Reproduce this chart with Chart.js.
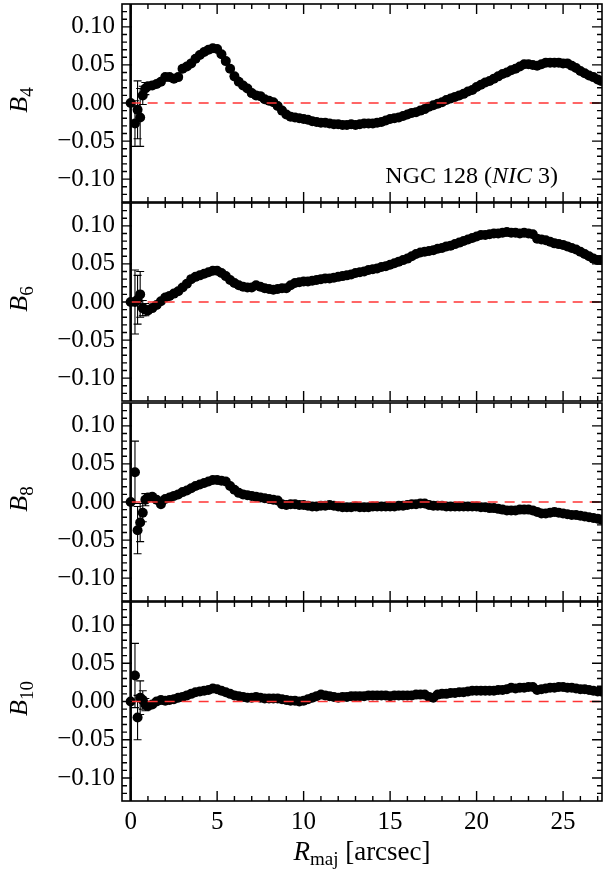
<!DOCTYPE html>
<html>
<head>
<meta charset="utf-8">
<script src="https://cdn.jsdelivr.net/npm/chart.js@4.4.1/dist/chart.umd.min.js"></script>
<style>
  html, body { margin: 0; padding: 0; background: #fff; }
  #wrap { position: relative; width: 607px; height: 871px; overflow: hidden; }
  #wrap canvas { position: absolute; left: 0; }
</style>
</head>
<body>
<div id="wrap">
  <canvas id="b4"></canvas>
  <canvas id="b6"></canvas>
  <canvas id="b8"></canvas>
  <canvas id="b10"></canvas>
</div>
<script>
// major-axis radius [arcsec], same sampling for the four panels
var radii = [
  0, 0.25, 0.4, 0.55, 0.7, 0.85,
  1.0, 1.25, 1.5, 1.75,
  2.0, 2.25, 2.5, 2.75,
  3.0, 3.25, 3.5, 3.75,
  4.0, 4.25, 4.5, 4.75,
  5.0, 5.25, 5.5, 5.75,
  6.0, 6.25, 6.5, 6.75,
  7.0, 7.25, 7.5, 7.75,
  8.0, 8.25, 8.5, 8.75,
  9.0, 9.25, 9.5, 9.75,
  10.0, 10.25, 10.5, 10.75,
  11.0, 11.25, 11.5, 11.75,
  12.0, 12.25, 12.5, 12.75,
  13.0, 13.25, 13.5, 13.75,
  14.0, 14.25, 14.5, 14.75,
  15.0, 15.25, 15.5, 15.75,
  16.0, 16.25, 16.5, 16.75,
  17.0, 17.25, 17.5, 17.75,
  18.0, 18.25, 18.5, 18.75,
  19.0, 19.25, 19.5, 19.75,
  20.0, 20.25, 20.5, 20.75,
  21.0, 21.25, 21.5, 21.75,
  22.0, 22.25, 22.5, 22.75,
  23.0, 23.25, 23.5, 23.75,
  24.0, 24.25, 24.5, 24.75,
  25.0, 25.25, 25.5, 25.75,
  26.0, 26.25, 26.5, 26.75,
  27.0, 27.2
];

var b4 = [
  0, -0.027, -0.009, -0.019, 0.010, 0.019,
  0.022, 0.023, 0.025, 0.028,
  0.034, 0.034, 0.032, 0.034,
  0.045, 0.048, 0.052, 0.058,
  0.063, 0.067, 0.070, 0.072,
  0.071, 0.064, 0.055, 0.045,
  0.035, 0.028, 0.023, 0.019,
  0.013, 0.010, 0.009, 0.005,
  0.003, 0.001, -0.004, -0.010,
  -0.015, -0.018, -0.019, -0.020,
  -0.021, -0.022, -0.024, -0.025,
  -0.026, -0.026, -0.027, -0.028,
  -0.028, -0.029, -0.029, -0.028,
  -0.029, -0.028, -0.027, -0.027,
  -0.027, -0.026, -0.025, -0.023,
  -0.021, -0.020, -0.019, -0.017,
  -0.015, -0.013, -0.012, -0.010,
  -0.008, -0.005, -0.003, -0.001,
  0.001, 0.004, 0.006, 0.008,
  0.010, 0.012, 0.015, 0.017,
  0.021, 0.024, 0.027, 0.029,
  0.032, 0.035, 0.038, 0.040,
  0.043, 0.045, 0.048, 0.051,
  0.051, 0.050, 0.049, 0.051,
  0.053, 0.053, 0.053, 0.053,
  0.052, 0.052, 0.049, 0.046,
  0.042, 0.039, 0.036, 0.034,
  0.031, 0.029
];

var b6 = [
  0, 0.000, 0.003, 0.010, -0.008, -0.010,
  -0.011, -0.008, -0.004, 0.001,
  0.006, 0.008, 0.011, 0.014,
  0.019, 0.024, 0.030, 0.033,
  0.035, 0.037, 0.039, 0.041,
  0.041, 0.038, 0.034, 0.029,
  0.025, 0.022, 0.020, 0.019,
  0.019, 0.022, 0.020, 0.018,
  0.017, 0.016, 0.017, 0.018,
  0.018, 0.022, 0.025, 0.026,
  0.027, 0.027, 0.028, 0.029,
  0.030, 0.031, 0.031, 0.032,
  0.033, 0.034, 0.035, 0.036,
  0.038, 0.039, 0.040, 0.042,
  0.043, 0.044, 0.046, 0.047,
  0.049, 0.051, 0.053, 0.055,
  0.057, 0.060, 0.063, 0.065,
  0.066, 0.067, 0.068, 0.070,
  0.071, 0.073, 0.074, 0.076,
  0.078, 0.080, 0.082, 0.084,
  0.086, 0.088, 0.088, 0.089,
  0.090, 0.090, 0.091, 0.092,
  0.091, 0.091, 0.090, 0.091,
  0.090, 0.089, 0.083, 0.082,
  0.081, 0.079, 0.077, 0.076,
  0.075, 0.073, 0.071, 0.069,
  0.066, 0.063, 0.060, 0.057,
  0.055, 0.055
];

var b8 = [
  0, 0.039, -0.037, -0.027, -0.014, 0.003,
  0.006, 0.007, 0.003, -0.003,
  0.004, 0.006, 0.008, 0.010,
  0.013, 0.015, 0.018, 0.021,
  0.023, 0.025, 0.027, 0.029,
  0.029, 0.028, 0.027, 0.021,
  0.016, 0.012, 0.010, 0.009,
  0.008, 0.007, 0.006, 0.005,
  0.004, 0.003, 0.002, -0.003,
  -0.004, -0.003, -0.003, -0.004,
  -0.004, -0.005, -0.006, -0.006,
  -0.005, -0.005, -0.004, -0.005,
  -0.006, -0.007, -0.007, -0.007,
  -0.006, -0.007, -0.007, -0.007,
  -0.006, -0.006, -0.006, -0.006,
  -0.006, -0.006, -0.005, -0.005,
  -0.004, -0.003, -0.003, -0.002,
  -0.002, -0.004, -0.005, -0.005,
  -0.005, -0.006, -0.006, -0.006,
  -0.006, -0.006, -0.006, -0.006,
  -0.006, -0.007, -0.007, -0.008,
  -0.008, -0.009, -0.010, -0.011,
  -0.011, -0.011, -0.010, -0.010,
  -0.010, -0.011, -0.013, -0.015,
  -0.015, -0.014, -0.013, -0.014,
  -0.015, -0.016, -0.017, -0.017,
  -0.018, -0.019, -0.020, -0.021,
  -0.022, -0.023
];

var b10 = [
  0, 0.034, -0.021, 0.005, 0.002, -0.004,
  -0.006, -0.004, 0.000, 0.002,
  0.001, 0.002, 0.003, 0.005,
  0.006, 0.008, 0.010, 0.012,
  0.013, 0.014, 0.015, 0.017,
  0.016, 0.014, 0.012, 0.010,
  0.008, 0.007, 0.006, 0.005,
  0.005, 0.006, 0.005, 0.004,
  0.004, 0.004, 0.004, 0.003,
  0.002, 0.001, 0.001, 0.000,
  0.001, 0.003, 0.005, 0.007,
  0.009, 0.008, 0.007, 0.006,
  0.005, 0.006, 0.006, 0.007,
  0.007, 0.007, 0.007, 0.008,
  0.008, 0.008, 0.008, 0.008,
  0.007, 0.008, 0.008, 0.008,
  0.008, 0.008, 0.009, 0.009,
  0.009, 0.006, 0.005, 0.009,
  0.010, 0.010, 0.011, 0.011,
  0.012, 0.012, 0.013, 0.014,
  0.014, 0.014, 0.014, 0.014,
  0.014, 0.015, 0.015, 0.016,
  0.018, 0.017, 0.018, 0.018,
  0.019, 0.019, 0.015, 0.016,
  0.017, 0.018, 0.018, 0.019,
  0.019, 0.018, 0.018, 0.017,
  0.016, 0.016, 0.015, 0.014,
  0.013, 0.013
];

// error bars of the innermost points, the rest use the typical band error
var b4Err = [0.5, 0.030, 0.038, 0.038, 0.012, 0.008];
var b6Err = [0.5, 0.042, 0.032, 0.030, 0.010, 0.008];
var b8Err = [0.5, 0.041, 0.031, 0.025, 0.012, 0.008];
var b10Err = [0.5, 0.042, 0.029, 0.022, 0.012, 0.008];
var bandErr = 0.003;

var xTicks = [0, 5, 10, 15, 20, 25];
var yTicks = [-0.10, -0.05, 0.00, 0.05, 0.10];

var XMIN = -0.5, XMAX = 27.25, YMIN = -0.13, YMAX = 0.13;
var panelTop = [3, 202.5, 402, 601.5];
var panelH = 199.5;
var SERIF = "'Liberation Serif', 'DejaVu Serif', serif";

function drawErrors(chart) {
  var ds = chart.data.datasets[1];
  var meta = chart.getDatasetMeta(1);
  var y = chart.scales.y, a = chart.chartArea, ctx = chart.ctx;
  ctx.save();
  ctx.beginPath();
  ctx.rect(a.left, a.top, a.right - a.left, a.bottom - a.top);
  ctx.clip();
  ctx.strokeStyle = '#000';
  meta.data.forEach(function(pt, i) {
    var v = ds.data[i].y, e = ds.errors[i];
    var y1 = y.getPixelForValue(v + e), y2 = y.getPixelForValue(v - e);
    ctx.lineWidth = e > 0.2 ? 2.6 : 1.1;
    ctx.beginPath();
    ctx.moveTo(pt.x, y1); ctx.lineTo(pt.x, y2);
    ctx.moveTo(pt.x - 4, y1); ctx.lineTo(pt.x + 4, y1);
    ctx.moveTo(pt.x - 4, y2); ctx.lineTo(pt.x + 4, y2);
    ctx.stroke();
  });
  ctx.restore();
}

function drawFrame(chart) {
  var a = chart.chartArea, ctx = chart.ctx, x = chart.scales.x, y = chart.scales.y;
  ctx.save();
  ctx.strokeStyle = '#000';
  ctx.lineWidth = 1.6;
  ctx.strokeRect(a.left, a.top, a.right - a.left, a.bottom - a.top);
  ctx.lineWidth = 1.4;
  ctx.beginPath();
  for (var v = Math.ceil(XMIN); v <= XMAX; v++) {
    var len = v % 5 === 0 ? 10 : 5, px = x.getPixelForValue(v);
    ctx.moveTo(px, a.bottom); ctx.lineTo(px, a.bottom - len);
    ctx.moveTo(px, a.top); ctx.lineTo(px, a.top + len);
  }
  for (var k = -12; k <= 12; k++) {
    var l = k % 5 === 0 ? 10 : 5, py = y.getPixelForValue(k / 100);
    ctx.moveTo(a.left, py); ctx.lineTo(a.left + l, py);
    ctx.moveTo(a.right, py); ctx.lineTo(a.right - l, py);
  }
  ctx.stroke();
  ctx.restore();
}

// pieces: [text, italic, size, baseline shift]
function drawPieces(ctx, pieces, x0, y0) {
  var cx = x0;
  pieces.forEach(function(p) {
    ctx.font = (p[1] ? 'italic ' : '') + p[2] + 'px ' + SERIF;
    ctx.fillText(p[0], cx, y0 + p[3]);
    cx += ctx.measureText(p[0]).width;
  });
}

function piecesWidth(ctx, pieces) {
  var w = 0;
  pieces.forEach(function(p) {
    ctx.font = (p[1] ? 'italic ' : '') + p[2] + 'px ' + SERIF;
    w += ctx.measureText(p[0]).width;
  });
  return w;
}

function drawTexts(chart) {
  var o = chart.options.plugins.panelText, a = chart.chartArea, ctx = chart.ctx;
  ctx.save();
  ctx.fillStyle = '#000';
  ctx.textBaseline = 'alphabetic';
  ctx.textAlign = 'left';

  var lab = [['B', true, 26, 0], [o.order, false, 19, 6]];
  var w = piecesWidth(ctx, lab);
  ctx.save();
  ctx.translate(27, (a.top + a.bottom) / 2 - 3);
  ctx.rotate(-Math.PI / 2);
  drawPieces(ctx, lab, -w / 2, 0);
  ctx.restore();

  if (o.note) {
    var note = [['NGC 128 (', false, 24, 0], ['NIC', true, 24, 0], [' 3)', false, 24, 0]];
    drawPieces(ctx, note, a.right - 44 - piecesWidth(ctx, note), a.bottom - 19);
  }
  if (o.xtitle) {
    var t = [['R', true, 27, 0], ['maj', false, 19, 5], [' [arcsec]', false, 27, 0]];
    drawPieces(ctx, t, (a.left + a.right) / 2 - piecesWidth(ctx, t) / 2, a.bottom + 59);
  }
  ctx.restore();
}

var panelPlugin = {
  id: 'panelText',
  beforeDatasetsDraw: drawErrors,
  afterDatasetsDraw: drawFrame,
  afterDraw: drawTexts
};

function fmtY(v) {
  return v.toFixed(2).replace('-', '\u2212');
}

function gerar_painel(id, idx, order, values, innerErr) {
  var last = idx === 3;
  var T = panelTop[idx];
  var top = Math.floor(T) - 4;
  var height = last ? 871 - top : Math.ceil(T + panelH) + 4 - top;
  var cv = document.getElementById(id);
  cv.width = 607;
  cv.height = height;
  cv.style.top = top + 'px';

  var points = radii.map(function(r, i) { return {x: r, y: values[i]}; });
  var errors = radii.map(function(r, i) { return i < innerErr.length ? innerErr[i] : bandErr; });

  new Chart(cv, {
    type: 'scatter',
    data: {
      datasets: [{
          data: [{x: 0, y: 0}, {x: XMAX, y: 0}],
          showLine: true,
          borderColor: '#ff3535',
          borderWidth: 1.6,
          borderDash: [10, 7],
          pointRadius: 0,
          order: 0
        }, {
          data: points,
          errors: errors,
          pointRadius: 5,
          pointBorderWidth: 0,
          backgroundColor: '#000',
          borderColor: '#000',
          order: 1
        }
      ]
    },
    options: {
      responsive: false,
      animation: false,
      events: [],
      layout: {
        padding: {left: 0, right: 5, top: T - top, bottom: last ? 0 : height - (T + panelH - top)}
      },
      plugins: {
        legend: {display: false},
        tooltip: {enabled: false},
        panelText: {order: order, note: idx === 0, xtitle: last}
      },
      scales: {
        x: {
          type: 'linear',
          min: XMIN,
          max: XMAX,
          display: last,
          grid: {display: false, drawTicks: false},
          border: {display: false},
          afterBuildTicks: function(s) { s.ticks = xTicks.map(function(v) { return {value: v}; }); },
          afterFit: function(s) {
            if (last) { s.height = 871 - (T + panelH); }
            s.paddingLeft = 0; s.paddingRight = 0;
          },
          ticks: {
            color: '#000',
            padding: 6,
            maxRotation: 0,
            autoSkip: false,
            font: {family: SERIF, size: 25},
            callback: function(v) { return String(v); }
          }
        },
        y: {
          type: 'linear',
          min: YMIN,
          max: YMAX,
          grid: {display: false, drawTicks: false},
          border: {display: false},
          afterBuildTicks: function(s) { s.ticks = yTicks.map(function(v) { return {value: v}; }); },
          afterFit: function(s) { s.width = 122; s.paddingTop = 0; s.paddingBottom = 0; },
          ticks: {
            color: '#000',
            padding: 7,
            autoSkip: false,
            font: {family: SERIF, size: 25},
            callback: fmtY
          }
        }
      }
    },
    plugins: [panelPlugin]
  });
}

gerar_painel('b4', 0, '4', b4, b4Err);
gerar_painel('b6', 1, '6', b6, b6Err);
gerar_painel('b8', 2, '8', b8, b8Err);
gerar_painel('b10', 3, '10', b10, b10Err);
</script>
</body>
</html>
